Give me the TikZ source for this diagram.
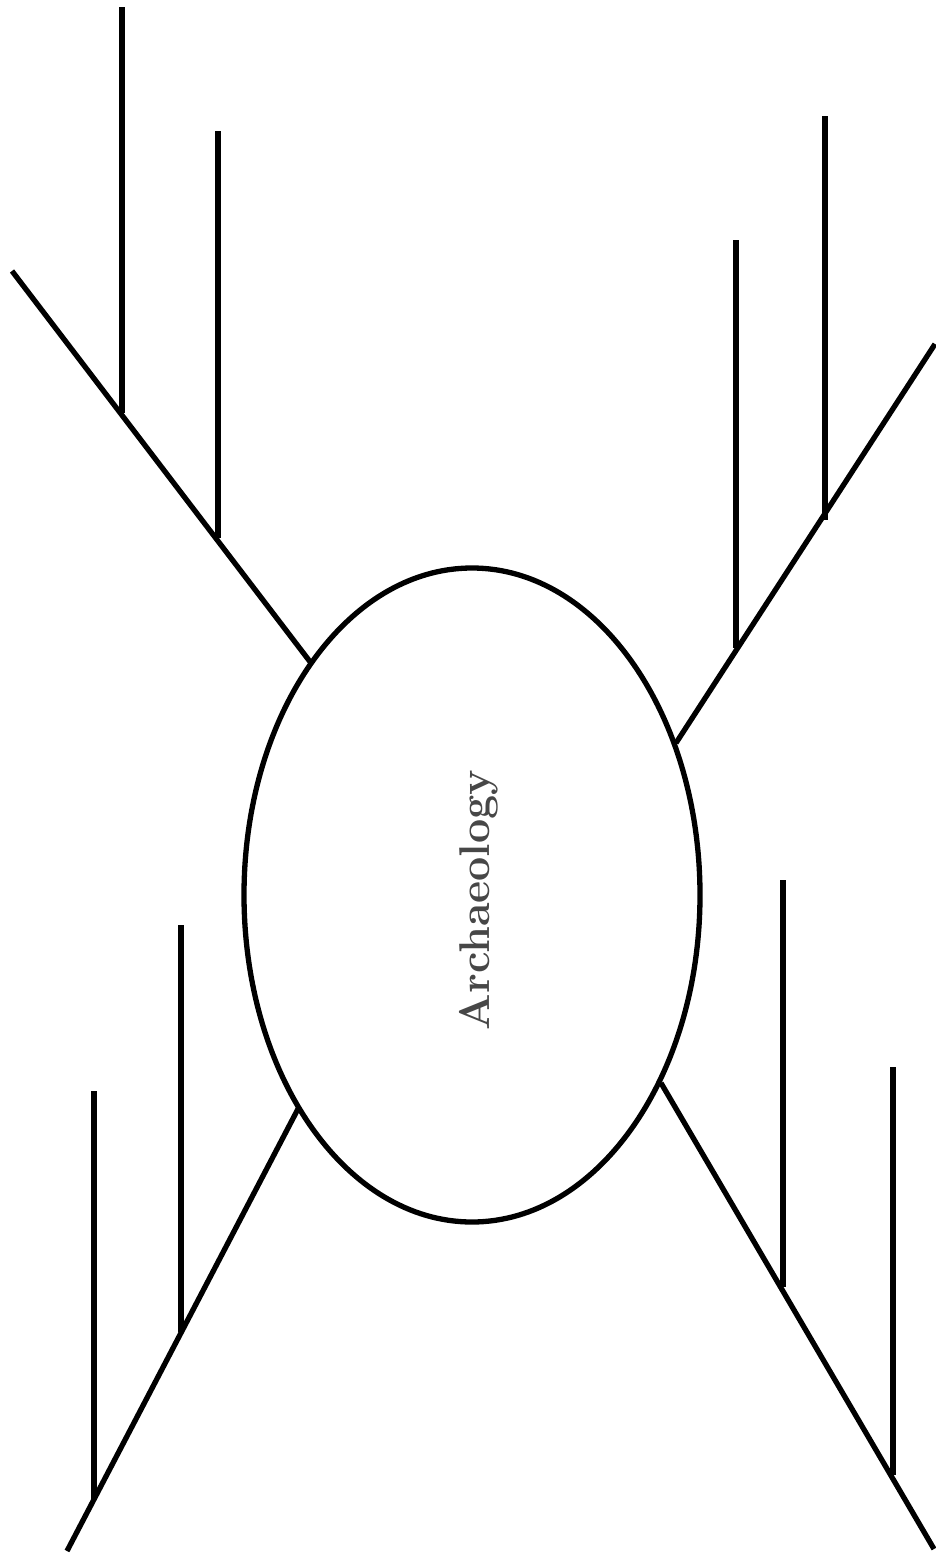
\documentclass[tikz,border=0pt]{standalone}
\usepackage{tikz}
\usetikzlibrary{shapes.geometric}
\begin{document}
\begin{tikzpicture}[x=1pt,y=-1pt,
  stroke/.style={line width=5.3pt,black},
  hub/.style={ellipse,draw,line width=5.3pt,minimum width=456pt,minimum height=654pt,inner sep=0pt},
  title/.style={text=black!72,font=\fontsize{43}{43}\selectfont\bfseries,rotate=90}]
\useasboundingbox (0,0) rectangle (936,1554);
\node[hub] (e) at (472,895) {};
\node[title] (t) at (479,900) {Archaeology};
% top-left
\coordinate (tlA) at (311,663);
\coordinate (tlB) at (12,271);
\coordinate (tl1b) at (122,413);
\coordinate (tl1t) at (122,7);
\coordinate (tl2b) at (218,538);
\coordinate (tl2t) at (218,131);
\draw[stroke] (tlA) -- (tlB);
\draw[stroke] (tl1b) -- (tl1t);
\draw[stroke] (tl2b) -- (tl2t);
% top-right
\coordinate (trA) at (676,743);
\coordinate (trB) at (935,344);
\coordinate (tr1b) at (825,520);
\coordinate (tr1t) at (825,116);
\coordinate (tr2b) at (736,648);
\coordinate (tr2t) at (736,240);
\draw[stroke] (trA) -- (trB);
\draw[stroke] (tr1b) -- (tr1t);
\draw[stroke] (tr2b) -- (tr2t);
% bottom-left
\coordinate (blA) at (299,1107);
\coordinate (blB) at (67,1551);
\coordinate (bl1b) at (181,1332);
\coordinate (bl1t) at (181,925);
\coordinate (bl2b) at (94,1499);
\coordinate (bl2t) at (94,1091);
\draw[stroke] (blA) -- (blB);
\draw[stroke] (bl1b) -- (bl1t);
\draw[stroke] (bl2b) -- (bl2t);
% bottom-right
\coordinate (brA) at (661,1083);
\coordinate (brB) at (934,1549);
\coordinate (br1b) at (783,1287);
\coordinate (br1t) at (783,880);
\coordinate (br2b) at (893,1475);
\coordinate (br2t) at (893,1067);
\draw[stroke] (brA) -- (brB);
\draw[stroke] (br1b) -- (br1t);
\draw[stroke] (br2b) -- (br2t);
\end{tikzpicture}
\end{document}
